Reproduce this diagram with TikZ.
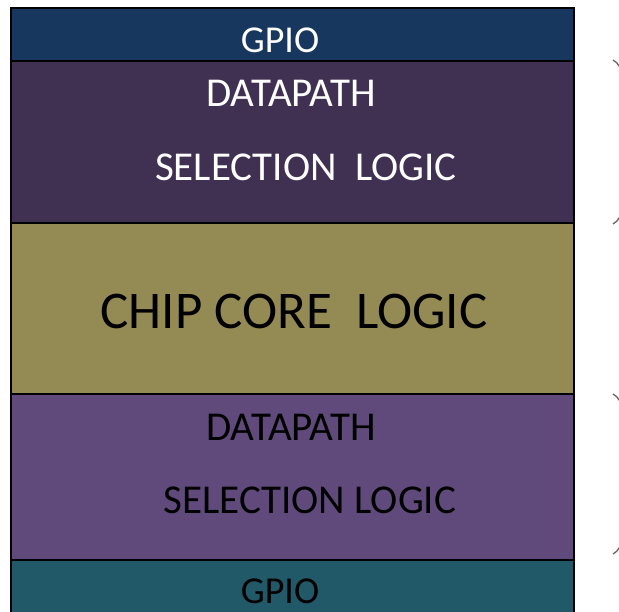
\documentclass[tikz,border=0pt]{standalone}
\usepackage{fontspec}
\setmainfont{Carlito}
\usetikzlibrary{decorations.pathreplacing}
\definecolor{gpiotop}{HTML}{17375E}
\definecolor{dpdark}{HTML}{403152}
\definecolor{core}{HTML}{948A54}
\definecolor{dplight}{HTML}{604A7B}
\definecolor{gpiobot}{HTML}{215968}
\tikzset{
  band/.style={draw=black, line width=1.6pt},
  label/.style={inner sep=0pt, anchor=base, font=\fontsize{38}{40}\selectfont},
  wide/.style={inner sep=0pt, anchor=base, font=\fontsize{41}{43}\selectfont},
  big/.style={inner sep=0pt, anchor=base, font=\fontsize{53}{55}\selectfont},
  curl/.style={draw=black!60, line width=1.3pt, decorate,
    decoration={brace, amplitude=18pt}}
}
\begin{document}
\begin{tikzpicture}[x=1pt, y=-1pt]
\useasboundingbox (0,0) rectangle (619,611);
\clip (0,0) rectangle (619,611);
% stacked floorplan bands
\path[band, fill=gpiotop]  (11,8)   rectangle (574,61);
\path[band, fill=dpdark]   (11,61)  rectangle (574,223);
\path[band, fill=core]     (11,223) rectangle (574,394);
\path[band, fill=dplight]  (11,394) rectangle (574,560);
\path[band, fill=gpiobot]  (11,560) rectangle (574,620);
% band labels
\node[label, text=white] (g1) at (280,52)  {GPIO};
\node[wide,  text=white] (d1) at (291,106) {DATAPATH};
\node[wide,  text=white] (s1) at (306,180) {SELECTION\ \ LOGIC};
\node[big,   text=black] (cc) at (294,328) {CHIP CORE\ \ LOGIC};
\node[wide,  text=black] (d2) at (291,440) {DATAPATH};
\node[wide,  text=black] (s2) at (310,513) {SELECTION LOGIC};
\node[label, text=black] (g2) at (280,603) {GPIO};
% side braces, running off the right edge
\coordinate (b1t) at (613,60);
\coordinate (b1b) at (613,224);
\coordinate (b2t) at (613,394);
\coordinate (b2b) at (613,554);
\draw[curl] (b1t) -- (b1b);
\draw[curl] (b2t) -- (b2b);
\end{tikzpicture}
\end{document}
